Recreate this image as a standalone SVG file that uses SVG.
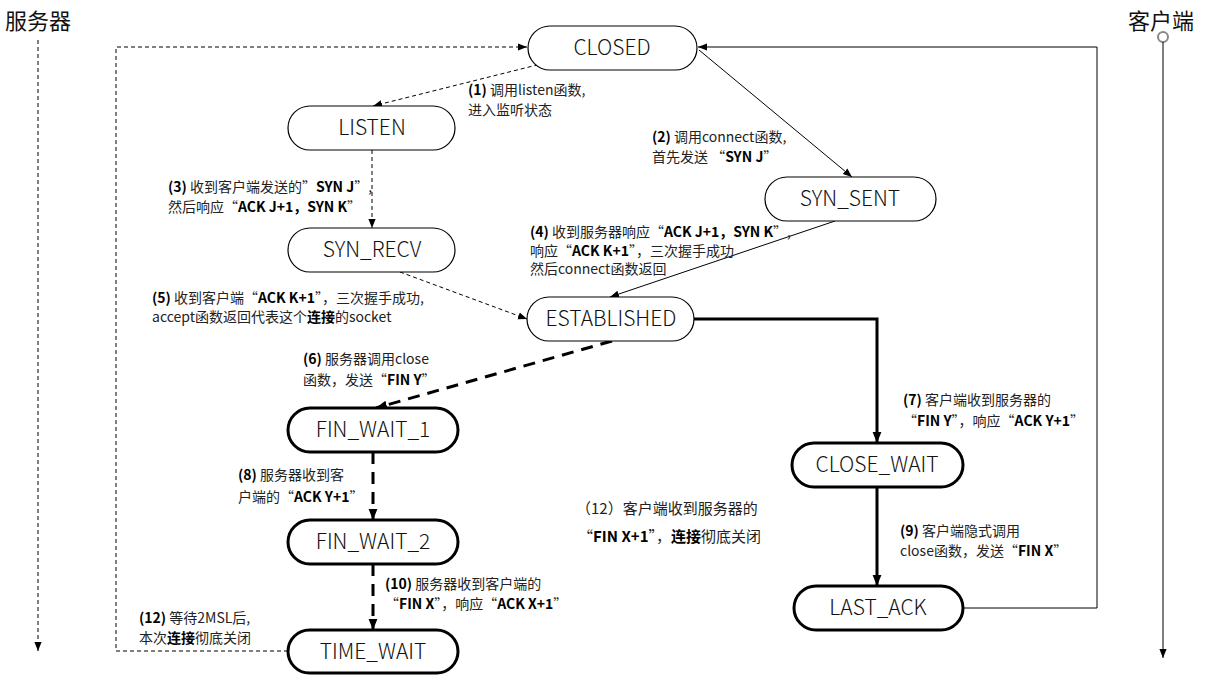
<svg xmlns="http://www.w3.org/2000/svg" width="1208" height="682" viewBox="0 0 1208 682">
<defs>
<style>
.n rect{fill:#fff;stroke:#000;stroke-width:1.2}
.n.k rect{stroke-width:3}
.n text{font-family:"Noto Sans CJK SC","Liberation Sans",sans-serif;font-weight:300;font-size:21px;fill:#111;text-anchor:middle}
.lb{font-family:"Noto Sans CJK SC","Liberation Sans",sans-serif;font-size:14px;fill:#222}
.lb .b{font-weight:bold;fill:#000}
.ttl{font-family:"Noto Sans CJK SC",sans-serif;font-size:22px;fill:#111}
.thin{fill:none;stroke:#000;stroke-width:1}
.dash{fill:none;stroke:#000;stroke-width:1;stroke-dasharray:4 3}
.thk{fill:none;stroke:#000;stroke-width:3}
.thkd{fill:none;stroke:#000;stroke-width:3;stroke-dasharray:12 8}
</style>
<marker id="a" viewBox="0 0 10 10" refX="10" refY="5" markerWidth="9" markerHeight="9" markerUnits="userSpaceOnUse" orient="auto"><path d="M0,1 L10,5 L0,9 Z" fill="#000"/></marker>
<marker id="as" viewBox="0 0 10 10" refX="0" refY="5" markerWidth="9" markerHeight="9" markerUnits="userSpaceOnUse" orient="auto"><path d="M10,1 L0,5 L10,9 Z" fill="#000"/></marker>
<marker id="ak" viewBox="0 0 10 10" refX="10" refY="5" markerWidth="11" markerHeight="11" markerUnits="userSpaceOnUse" orient="auto"><path d="M0,1 L10,5 L0,9 Z" fill="#000"/></marker>
</defs>
<rect width="1208" height="682" fill="#fff"/>

<g id="lifelines">
<text class="ttl" x="5" y="29">服务器</text>
<line class="dash" x1="38" y1="40" x2="38" y2="651" marker-end="url(#a)"/>
<text class="ttl" x="1128" y="29">客户端</text>
<circle cx="1163" cy="37" r="5" fill="#fff" stroke="#888" stroke-width="2"/>
<line class="thin" x1="1163" y1="42" x2="1163" y2="658" marker-end="url(#a)"/>
</g>

<g id="connectors">
<polyline class="dash" points="288,651 116,651 116,47 527,47" marker-end="url(#a)"/>
<polyline class="thin" points="963,608 1097,608 1097,47 698,47" marker-end="url(#a)"/>
<line class="dash" x1="545" y1="63" x2="373" y2="106" marker-end="url(#a)"/>
<line class="thin" x1="699" y1="50" x2="852" y2="177" marker-end="url(#a)"/>
<line class="dash" x1="372" y1="150" x2="372" y2="228" marker-end="url(#a)"/>
<line class="dash" x1="400" y1="272" x2="527" y2="319" marker-end="url(#a)"/>
<line class="thin" x1="835" y1="221" x2="610" y2="297" marker-end="url(#a)"/>
<line class="thkd" x1="612" y1="341" x2="376" y2="408" marker-end="url(#ak)"/>
<polyline class="thk" points="694,319 877,319 877,443" marker-end="url(#ak)"/>
<line class="thkd" x1="373" y1="452" x2="373" y2="520" marker-end="url(#ak)"/>
<line class="thk" x1="877" y1="487" x2="877" y2="586" marker-end="url(#ak)"/>
<line class="thkd" x1="373" y1="564" x2="373" y2="630" marker-end="url(#ak)"/>
</g>

<g id="CLOSED" class="n"><rect x="528" y="26" width="169" height="44" rx="22"/><text x="612" y="55">CLOSED</text></g>
<g id="LISTEN" class="n"><rect x="288" y="106" width="167" height="44" rx="22"/><text x="372" y="135">LISTEN</text></g>
<g id="SYN_SENT" class="n"><rect x="765" y="177" width="171" height="44" rx="22"/><text x="850" y="206">SYN_SENT</text></g>
<g id="SYN_RECV" class="n"><rect x="288" y="228" width="167" height="44" rx="22"/><text x="372" y="257">SYN_RECV</text></g>
<g id="ESTABLISHED" class="n"><rect x="527" y="297" width="167" height="44" rx="22"/><text x="611" y="326">ESTABLISHED</text></g>
<g id="FIN_WAIT_1" class="n k"><rect x="288" y="408" width="170" height="44" rx="22"/><text x="373" y="437">FIN_WAIT_1</text></g>
<g id="CLOSE_WAIT" class="n k"><rect x="792" y="443" width="171" height="44" rx="22"/><text x="877" y="472">CLOSE_WAIT</text></g>
<g id="FIN_WAIT_2" class="n k"><rect x="288" y="520" width="170" height="44" rx="22"/><text x="373" y="549">FIN_WAIT_2</text></g>
<g id="LAST_ACK" class="n k"><rect x="794" y="586" width="169" height="44" rx="22"/><text x="878" y="615">LAST_ACK</text></g>
<g id="TIME_WAIT" class="n k"><rect x="288" y="630" width="170" height="43" rx="21.5"/><text x="373" y="659">TIME_WAIT</text></g>

<g id="labels">
<text class="lb" x="468" y="95"><tspan class="b">(1)</tspan> 调用listen函数,</text>
<text class="lb" x="468" y="115">进入监听状态</text>
<text class="lb" x="652" y="142"><tspan class="b">(2)</tspan> 调用connect函数,</text>
<text class="lb" x="652" y="162">首先发送 “<tspan class="b">SYN J</tspan>”</text>
<text class="lb" x="168" y="192"><tspan class="b">(3)</tspan> 收到客户端发送的”<tspan class="b">SYN J</tspan>”,</text>
<text class="lb" x="168" y="212">然后响应“<tspan class="b">ACK J+1，SYN K</tspan>”</text>
<text class="lb" x="530" y="237"><tspan class="b">(4)</tspan> 收到服务器响应“<tspan class="b">ACK J+1，SYN K</tspan>”,</text>
<text class="lb" x="530" y="256">响应“<tspan class="b">ACK K+1</tspan>”，三次握手成功</text>
<text class="lb" x="530" y="274">然后connect函数返回</text>
<text class="lb" x="152" y="303"><tspan class="b">(5)</tspan> 收到客户端“<tspan class="b">ACK K+1</tspan>”，三次握手成功,</text>
<text class="lb" x="152" y="322">accept函数返回代表这个<tspan class="b">连接</tspan>的socket</text>
<text class="lb" x="303" y="364"><tspan class="b">(6)</tspan> 服务器调用close</text>
<text class="lb" x="303" y="385">函数，发送“<tspan class="b">FIN Y</tspan>”</text>
<text class="lb" x="903" y="405"><tspan class="b">(7)</tspan> 客户端收到服务器的</text>
<text class="lb" x="903" y="426">“<tspan class="b">FIN Y</tspan>”，响应“<tspan class="b">ACK Y+1</tspan>”</text>
<text class="lb" x="238" y="480"><tspan class="b">(8)</tspan> 服务器收到客</text>
<text class="lb" x="238" y="502">户端的“<tspan class="b">ACK Y+1</tspan>”</text>
<text class="lb" x="900" y="536"><tspan class="b">(9)</tspan> 客户端隐式调用</text>
<text class="lb" x="900" y="556">close函数，发送“<tspan class="b">FIN X</tspan>”</text>
<text class="lb" x="385" y="589"><tspan class="b">(10)</tspan> 服务器收到客户端的</text>
<text class="lb" x="385" y="609">“<tspan class="b">FIN X</tspan>”，响应“<tspan class="b">ACK X+1</tspan>”</text>
<text class="lb" x="139" y="623"><tspan class="b">(12)</tspan> 等待2MSL后,</text>
<text class="lb" x="139" y="643">本次<tspan class="b">连接</tspan>彻底关闭</text>
<text class="lb" x="576" y="514" style="font-size:15px">（12）客户端收到服务器的</text>
<text class="lb" x="578" y="542" style="font-size:15px">“<tspan class="b">FIN X+1</tspan>”，<tspan class="b">连接</tspan>彻底关闭</text>
</g>
</svg>
